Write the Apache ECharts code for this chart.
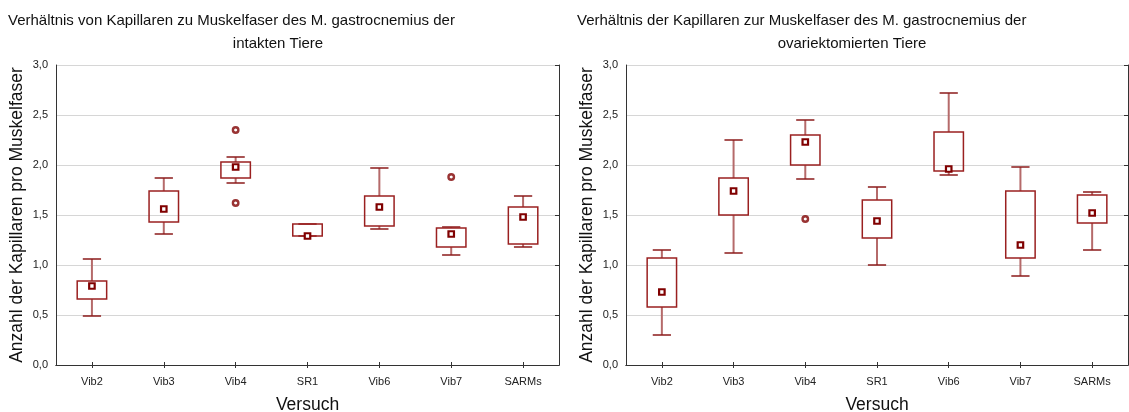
<!DOCTYPE html>
<html>
<head>
<meta charset="utf-8">
<script src="https://cdn.jsdelivr.net/npm/echarts@6/dist/echarts.min.js"></script>
<style>
  html, body { margin: 0; padding: 0; background: #fff; }
  #chart { width: 1129px; height: 412px; }
</style>
</head>
<body>
<div id="chart"></div>
<script>
// Versuchsgruppen
const categories = ['Vib2', 'Vib3', 'Vib4', 'SR1', 'Vib6', 'Vib7', 'SARMs'];
const yTicks = [0, 0.5, 1.0, 1.5, 2.0, 2.5, 3.0];

// Intakte Tiere: Spannweite (ohne Ausreißer), Quartile, Median
const intaktMin    = [0.49, 1.31, 1.82, 1.29, 1.36, 1.10, 1.18];
const intaktQ1     = [0.66, 1.43, 1.87, 1.29, 1.39, 1.18, 1.21];
const intaktMedian = [0.79, 1.56, 1.98, 1.29, 1.58, 1.31, 1.48];
const intaktQ3     = [0.84, 1.74, 2.03, 1.41, 1.69, 1.37, 1.58];
const intaktMax    = [1.06, 1.87, 2.08, 1.41, 1.97, 1.38, 1.69];
const intaktOutliers = [['Vib4', 2.35], ['Vib4', 1.62], ['Vib7', 1.88]];

// Ovariektomierte Tiere
const ovxMin    = [0.30, 1.12, 1.86, 1.00, 1.90, 0.89, 1.15];
const ovxQ1     = [0.58, 1.50, 2.00, 1.27, 1.94, 1.07, 1.42];
const ovxMedian = [0.73, 1.74, 2.23, 1.44, 1.96, 1.20, 1.52];
const ovxQ3     = [1.07, 1.87, 2.30, 1.65, 2.33, 1.74, 1.70];
const ovxMax    = [1.15, 2.25, 2.45, 1.78, 2.72, 1.98, 1.73];
const ovxOutliers = [['Vib4', 1.46]];

const FONT = '"Liberation Sans", Arial, sans-serif';
const DARK_RED = '#800000';
const WHISKER = '#b56a6a';
const FRAME = '#333';

function boxRows(mins, q1, med, q3, maxs) {
  return categories.map((c, i) => [i, mins[i], q1[i], med[i], q3[i], maxs[i]]);
}
function outlierRows(list) {
  return list.map(([c, v]) => [categories.indexOf(c), v]);
}

// Box: Quartile als Rechteck, Whisker bis Min/Max, Median als kleines Quadrat
function renderBox(params, api) {
  const i = api.value(0);
  const pLow = api.coord([i, api.value(1)]);
  const pQ1 = api.coord([i, api.value(2)]);
  const pMed = api.coord([i, api.value(3)]);
  const pQ3 = api.coord([i, api.value(4)]);
  const pHigh = api.coord([i, api.value(5)]);
  const bandW = api.size([1, 0])[0];
  const boxW = bandW * 0.41;
  const capW = boxW * 0.62;
  const x = pMed[0];
  const line = (x1, y1, x2, y2, color, w) => ({
    type: 'line',
    shape: { x1, y1, x2, y2 },
    style: { stroke: color, lineWidth: w }
  });
  return {
    type: 'group',
    children: [
      line(x, pHigh[1], x, pQ3[1], WHISKER, 2),
      line(x, pQ1[1], x, pLow[1], WHISKER, 2),
      line(x - capW / 2, pHigh[1], x + capW / 2, pHigh[1], '#8b1a1a', 1.5),
      line(x - capW / 2, pLow[1], x + capW / 2, pLow[1], '#8b1a1a', 1.5),
      {
        type: 'rect',
        shape: { x: x - boxW / 2, y: pQ3[1], width: boxW, height: pQ1[1] - pQ3[1] },
        style: { fill: 'none', stroke: '#9a2020', lineWidth: 1.5 }
      },
      {
        type: 'rect',
        shape: { x: x - 2.75, y: pMed[1] - 2.75, width: 5.5, height: 5.5 },
        style: { fill: '#fff', stroke: DARK_RED, lineWidth: 2.2 }
      }
    ]
  };
}

const fmt = v => v.toFixed(1).replace('.', ',');

function axesFor(gridIndex) {
  const x = [
    {
      gridIndex, type: 'category', data: categories, boundaryGap: true,
      name: 'Versuch', nameLocation: 'middle', nameGap: 31,
      nameTextStyle: { fontFamily: FONT, fontSize: 17.5, color: '#111' },
      axisLine: { show: true, lineStyle: { color: FRAME, width: 1 } },
      axisTick: { show: true, inside: true, alignWithLabel: true, length: 3, lineStyle: { color: FRAME } },
      axisLabel: { fontFamily: FONT, fontSize: 11, color: '#222', margin: 11 },
      splitLine: { show: false }
    },
    {
      gridIndex, type: 'category', data: categories, boundaryGap: true, position: 'top',
      axisLine: { show: true, lineStyle: { color: FRAME, width: 1 } },
      axisTick: { show: true, inside: true, alignWithLabel: true, length: 3, lineStyle: { color: FRAME } },
      axisLabel: { show: false }, splitLine: { show: false }
    }
  ];
  const y = [
    {
      gridIndex, type: 'value', min: yTicks[0], max: yTicks[yTicks.length - 1], interval: 0.5,
      name: 'Anzahl der Kapillaren pro Muskelfaser', nameLocation: 'middle', nameGap: 30,
      nameTextStyle: { fontFamily: FONT, fontSize: 17.5, color: '#111' },
      axisLine: { show: true, lineStyle: { color: FRAME, width: 1 } },
      axisTick: { show: false },
      axisLabel: { fontFamily: FONT, fontSize: 11, color: '#222', margin: 8, formatter: fmt },
      splitLine: { show: true, lineStyle: { color: '#d6d6d6', width: 1 } }
    },
    {
      gridIndex, type: 'value', min: 0, max: 3, interval: 0.5, position: 'right',
      axisLine: { show: true, lineStyle: { color: FRAME, width: 1 } },
      axisTick: { show: true, inside: true, length: 4, lineStyle: { color: FRAME } },
      axisLabel: { show: false }, splitLine: { show: false }
    }
  ];
  return { x, y };
}

const a0 = axesFor(0), a1 = axesFor(1);

function seriesFor(gridIdx, rows, outliers) {
  return [
    {
      type: 'custom', xAxisIndex: gridIdx * 2, yAxisIndex: gridIdx * 2,
      renderItem: renderBox, data: rows,
      encode: { x: 0, y: [1, 2, 3, 4, 5] }, z: 3
    },
    {
      type: 'scatter', xAxisIndex: gridIdx * 2, yAxisIndex: gridIdx * 2,
      data: outliers, symbol: 'circle', symbolSize: 5.5,
      itemStyle: { color: '#fff', borderColor: DARK_RED, borderWidth: 2.4 }, z: 4
    }
  ];
}

const titleStyle = { fontFamily: FONT, fontSize: 15, fill: '#111' };

const option = {
  backgroundColor: '#fff',
  animation: false,
  grid: [
    { left: 56, top: 65, width: 503, height: 300, outerBoundsMode: 'none', containLabel: false },
    { left: 626, top: 65, width: 502, height: 300, outerBoundsMode: 'none', containLabel: false }
  ],
  xAxis: [...a0.x, ...a1.x],
  yAxis: [...a0.y, ...a1.y],
  series: [
    ...seriesFor(0, boxRows(intaktMin, intaktQ1, intaktMedian, intaktQ3, intaktMax), outlierRows(intaktOutliers)),
    ...seriesFor(1, boxRows(ovxMin, ovxQ1, ovxMedian, ovxQ3, ovxMax), outlierRows(ovxOutliers))
  ],
  graphic: [
    { type: 'text', left: 8, top: 13, style: Object.assign({ text: 'Verhältnis von Kapillaren zu Muskelfaser des M. gastrocnemius der' }, titleStyle) },
    { type: 'text', x: 278, y: 36, style: Object.assign({ text: 'intakten Tiere', textAlign: 'center' }, titleStyle) },
    { type: 'text', left: 577, top: 13, style: Object.assign({ text: 'Verhältnis der Kapillaren zur Muskelfaser des M. gastrocnemius der' }, titleStyle) },
    { type: 'text', x: 852, y: 36, style: Object.assign({ text: 'ovariektomierten Tiere', textAlign: 'center' }, titleStyle) }
  ]
};

echarts.init(document.getElementById('chart'), null, { renderer: 'canvas' }).setOption(option);
</script>
</body>
</html>
